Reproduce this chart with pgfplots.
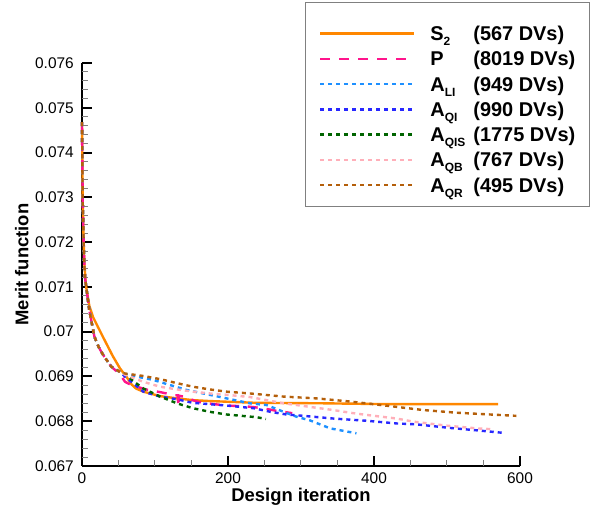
\documentclass[border=0pt]{standalone}
\usepackage{pgfplots}
\pgfplotsset{compat=1.18}
\usepackage{fontspec}
\setmainfont{Liberation Sans}

\definecolor{cS}{RGB}{255,135,0}
\definecolor{cP}{RGB}{255,20,140}
\definecolor{cLI}{RGB}{30,144,255}
\definecolor{cQI}{RGB}{40,40,255}
\definecolor{cQIS}{RGB}{0,100,0}
\definecolor{cQB}{RGB}{255,175,185}
\definecolor{cQR}{RGB}{180,95,10}

\newcommand\sub[1]{\raisebox{-5bp}{\fontsize{12}{12}\selectfont #1}}
\newcommand\entry[2]{\makebox[43bp][l]{#1}#2}

\begin{document}
\begin{tikzpicture}
\begin{axis}[
  scale only axis, width=438bp, height=403bp,
  xmin=0, xmax=600, ymin=0.067, ymax=0.076,
  clip=false,
  axis x line*=bottom, axis y line*=left,
  axis line style={line width=2bp, black},
  scaled y ticks=false,
  xtick align=inside, ytick align=inside,
  major tick length=10bp, minor tick length=6bp,
  tick style={black!90, line width=2bp},
  xtick={0,200,400,600}, xticklabels={0,200,400,600},
  ytick={0.067,0.068,0.069,0.070,0.071,0.072,0.073,0.074,0.075,0.076},
  yticklabels={0.067,0.068,0.069,0.07,0.071,0.072,0.073,0.074,0.075,0.076},
  ticklabel style={font=\fontsize{15.5}{18}\selectfont},
  xticklabel style={inner sep=0pt, yshift=-6.5bp},
  yticklabel style={inner sep=0pt, xshift=-8bp},
  xlabel={Design iteration}, ylabel={Merit function},
  label style={font=\bfseries\fontsize{18.5}{22}\selectfont},
  xlabel style={at={(axis description cs:0.5,-0.0754)}, anchor=center},
  ylabel style={at={(axis description cs:-0.1374,0.5)}, anchor=center},
  legend image code/.code={\draw[#1] (0bp,0bp) -- (94bp,0bp);},
  legend cell align=left,
  legend style={
    at={(axis description cs:0.5411,1.098)}, anchor=north west,
    draw=none, fill=none, inner sep=0pt, outer sep=0pt,
    font=\bfseries\fontsize{20}{24}\selectfont,
    row sep=5.3bp,
    nodes={inner sep=0pt, text height=17bp, text depth=3bp},
    /tikz/every odd column/.append style={column sep=15bp},
  },
  dotted line/.style={line width=2.4bp, dash pattern=on 4bp off 4bp},
]
% legend frame and page extent
\draw[gray, line width=1bp] (axis description cs:0.5114,1.1489) rectangle (axis description cs:1.1598,0.6427);
\path (axis description cs:-0.1872,-0.1117) rectangle (axis description cs:1.1644,1.1563);

% inward tick marks on the two axis lines
\pgfplotsinvokeforeach{0,200,400,600}{
  \draw[black, line width=2bp] (axis cs:#1,0.067) -- ++(0bp,10bp);}
\pgfplotsinvokeforeach{50,100,150,250,300,350,450,500,550}{
  \draw[gray, line width=1bp] (axis cs:#1,0.067) -- ++(0bp,6bp);}
\pgfplotsinvokeforeach{0.067,0.068,0.069,0.070,0.071,0.072,0.073,0.074,0.075,0.076}{
  \draw[black, line width=2bp] (axis cs:0,#1) -- ++(10bp,0bp);}
\pgfplotsinvokeforeach{0.0672,0.0674,0.0676,0.0678,0.0682,0.0684,0.0686,0.0688,
    0.0692,0.0694,0.0696,0.0698,0.0702,0.0704,0.0706,0.0708,
    0.0712,0.0714,0.0716,0.0718,0.0722,0.0724,0.0726,0.0728,
    0.0732,0.0734,0.0736,0.0738,0.0742,0.0744,0.0746,0.0748,
    0.0752,0.0754,0.0756,0.0758}{
  \draw[gray, line width=1bp] (axis cs:0,#1) -- ++(6bp,0bp);}

\addplot[cS, line width=2.4bp] coordinates {
(0,0.07468)(1,0.0729)(2,0.0722)(3,0.0716)(5,0.07110)(6,0.07097)(10,0.07058)
(15,0.07033)(22,0.07010)(31,0.06981)(42,0.06946)(52,0.06918)(61,0.06899)
(68,0.06882)(74,0.06873)(84,0.06866)(107,0.06856)(130,0.06851)(152,0.06847)
(175,0.06845)(239,0.06841)(330,0.06840)(422,0.06838)(570,0.06838)};
\addlegendentry{\entry{S\sub{2}}{(567 DVs)}}

\addplot[cP, line width=2.4bp, dash pattern=on 10bp off 9bp] coordinates {
(0,0.07468)(1,0.0729)(2,0.0722)(3,0.0716)(4,0.07123)(7,0.07085)(10,0.07048)
(17,0.06989)(23,0.06965)(29,0.06948)(40,0.06922)(52,0.06905)(59,0.06888)
(66,0.06882)(75,0.06877)(90,0.06870)(107,0.06865)(127,0.06858)(131,0.06858)
(132,0.06832)(133,0.06857)(139,0.06855)(157,0.06844)(171,0.06840)(198,0.06835)
(226,0.06833)(248,0.06829)(267,0.06823)(288,0.06818)};
\addlegendentry{\entry{P}{(8019 DVs)}}

\addplot[cLI, dotted line] coordinates {
(0,0.07468)(1,0.0729)(2,0.0722)(3,0.0716)(4,0.07123)(7,0.07085)(10,0.07048)
(17,0.06989)(23,0.06965)(29,0.06948)(40,0.06922)(52,0.06910)
(60,0.06905)(80,0.06898)(98,0.06892)(120,0.06881)(143,0.06870)(166,0.06862)
(198,0.06851)(230,0.06840)(253,0.06836)(264,0.06829)(276,0.06821)(294,0.06810)
(312,0.06802)(340,0.06784)(376,0.06773)};
\addlegendentry{\entry{A\sub{LI}}{(949 DVs)}}

\addplot[cQI, dotted line] coordinates {
(0,0.07468)(1,0.0729)(2,0.0722)(3,0.0716)(4,0.07123)(7,0.07085)(10,0.07048)
(17,0.06989)(23,0.06965)(29,0.06948)(40,0.06922)(52,0.06910)
(60,0.06898)(70,0.06885)(84,0.06866)(107,0.06855)(130,0.06849)(152,0.06841)
(175,0.06838)(198,0.06835)(235,0.06829)(258,0.06821)(280,0.06815)(303,0.06812)
(344,0.06806)(390,0.06801)(431,0.06795)(458,0.06793)(504,0.06785)(545,0.06779)
(577,0.06774)};
\addlegendentry{\entry{A\sub{QI}}{(990 DVs)}}

\addplot[cQIS, dotted line] coordinates {
(0,0.07468)(1,0.0729)(2,0.0722)(3,0.0716)(4,0.07123)(7,0.07085)(10,0.07048)
(17,0.06989)(23,0.06965)(29,0.06948)(40,0.06922)(52,0.06910)
(62,0.06903)(70,0.06890)(84,0.06873)(107,0.06855)(130,0.06840)(152,0.06829)
(175,0.06821)(198,0.06815)(239,0.06809)(252,0.06805)};
\addlegendentry{\entry{A\sub{QIS}}{(1775 DVs)}}

\addplot[cQB, dotted line] coordinates {
(0,0.07468)(1,0.0729)(2,0.0722)(3,0.0716)(4,0.07123)(7,0.07085)(10,0.07048)
(17,0.06989)(23,0.06965)(29,0.06948)(40,0.06922)(52,0.06910)
(60,0.06903)(84,0.06888)(107,0.06877)(130,0.06871)(152,0.06866)(175,0.06862)
(198,0.06859)(230,0.06854)(253,0.06847)(276,0.06840)(299,0.06835)(321,0.06830)
(344,0.06825)(367,0.06819)(390,0.06814)(431,0.06806)(454,0.06799)(500,0.06790)
(541,0.06784)(563,0.06782)};
\addlegendentry{\entry{A\sub{QB}}{(767 DVs)}}

\addplot[cQR, dotted line] coordinates {
(0,0.07468)(1,0.0729)(2,0.0722)(3,0.0716)(4,0.07123)(7,0.07085)(10,0.07048)
(17,0.06989)(23,0.06965)(29,0.06948)(40,0.06922)(52,0.06910)
(57,0.06907)(84,0.06901)(107,0.06894)(130,0.06885)(152,0.06877)(175,0.06871)
(198,0.06866)(230,0.06862)(276,0.06855)(321,0.06851)(367,0.06844)(426,0.06833)
(467,0.06825)(513,0.06819)(559,0.06815)(595,0.06812)};
\addlegendentry{\entry{A\sub{QR}}{(495 DVs)}}
\end{axis}
\end{tikzpicture}
\end{document}
